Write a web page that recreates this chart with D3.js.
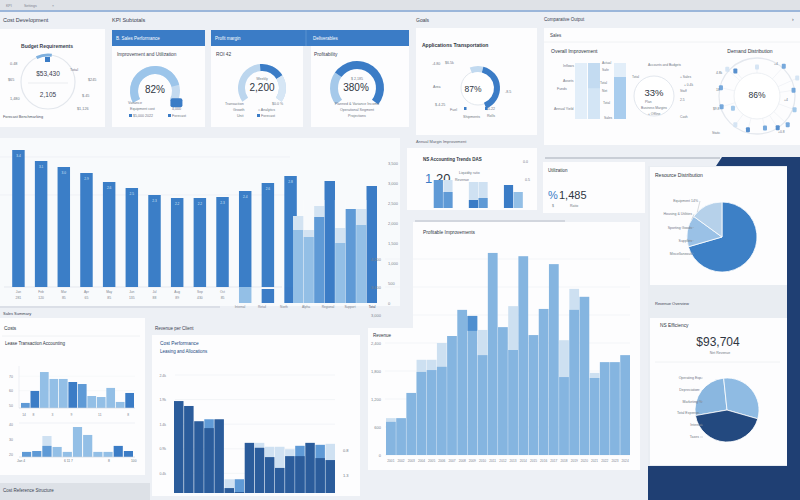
<!DOCTYPE html>
<html>
<head>
<meta charset="utf-8">
<script src="https://cdn.jsdelivr.net/npm/d3@7"></script>
<style>
  body { margin: 0; background: #edf0f5; }
  svg { display: block; font-family: "Liberation Sans", Arial, sans-serif; }
</style>
</head>
<body>
<svg id="chart" width="800" height="500"></svg>
<script>
// ---- data ----
var trendLabels = ['Jan','Feb','Mar','Apr','May','Jun','Jul','Aug','Sep','Oct','Nov','Dec','Total'];
var trendValues = [3425,3150,3000,2850,2625,2475,2300,2225,2225,2250,2400,2600,2775];
var trendSub = ['281','120','85','65','85','135','88','89','430','85','','',''];
var trendTicks = [0,500,1000,1500,2000,2500,3000,3500];

var compareSlots = ['A1','A2','B1','B2','C1','C2','D1','D2'];
var compareBase = [1825,1650,2150,3050,1500,2350,1950,2925];
var compareCap  = [2175,1825,2425,0,1875,0,2350,0];
var compareTone = ['light','light','mid','dark','light','mid','light','dark'];
var compareFoot = ['Internal','Retail','North','Alpha','Regional','Support','Total'];
var carryIndex = [10,11,12];
var carryValues = [400,350,400];
var carryTone = ['light','dark','dark'];

var revLabels = ['2001','2002','2003','2004','2005','2006','2007','2008','2009','2010','2011','2012',
                 '2013','2014','2015','2016','2017','2018','2019','2020','2021','2022','2023','2024'];
var revBase = [710,790,1330,1780,1820,1890,2550,3110,2980,2140,4330,2740,2250,4260,2570,3130,4090,1670,3110,3390,1650,1990,1990,2140];
var revCap  = [790,0,0,2040,2040,2400,0,0,0,2680,0,0,3190,0,0,0,0,2460,3560,0,1760,0,0,0];
var revAccent = [0,0,0,0,0,0,0,0,2660,0,0,0,0,0,0,0,0,0,0,0,0,0,0,0];
var revTicks = [0,600,1200,1800,2400,3000,3600,4200];

var leaseLabels = ['14','8','','3','','9','','','11','','','8'];
var leaseA = [51.5,59.8,72.9,68.1,68.1,66.0,64.6,56.3,55.6,61.9,52.2,58.4];
var leaseATone = ['mid','dark','light','light','light','dark','mid','light','light','light','light','dark'];
var leaseB = [21.4,22.0,25.4,24.7,21.4,38.0,32.7,21.4,21.4,25.4,22.0];
var leaseBCap = [0,0,32.0,0,0,0,0,0,0,0,0];
var leaseBTone = ['mid','mid','mid','light','light','light','light','light','light','dark','dark'];

var allocDark = [1.87,1.77,1.46,1.32,1.50,0.10,0.02,1.02,0.92,0.73,0.51,0.75,0.75,1.02,0.71,0.67];
var allocCap  = [0,0,0,1.50,0,0.28,0.28,0,1.02,0.94,0.94,0.89,0.96,0,0.98,1.00];
var allocCapTone = ['','','','mid','','pale','mid','','pale','pale','pale','pale','mid','','mid','pale'];
var allocTicks = [0.4,0.9,1.4,1.9,2.4];

var miniGroups = ['North','Central','South'];
var miniSeries = ['Plan','Actual'];
var miniTotal = [[28,28],[26,26],[23,16]];
var miniActual = [[28,16],[8,10],[23,16]];
var miniTone = [['mid','mid'],['dark','mid'],['dark','light']];

var improveCols = ['Plan','Target','Reserve','Actual'];
var improveTotal = [100,100,0,100];
var improveFill = [0,0,0,75];
var improveHead = [0,45,0,0];

var resourceNames = ['Equipment 14%','Housing & Utilities','Sporting Goods','Supplies','Miscellaneous'];
var resourceShares = [70.5,14.5,15];
var expenseNames = ['Operating Exp.','Depreciation','Marketing %','Total Expense','Interest','Taxes'];
var expenseShares = [94,112,154];

var demandAngles = [312,319,283,253,243,0,42,66,81,110,133,147,166,195,217];
var demandDist = [40,33,37,37,27,29,40,44,37,40,42,38,33,35,36];
var demandTone = ['pale','dark','mid','mid','light','pale','mid','pale','mid','light','mid','dark','mid','dark','pale'];

var tones = {dark:'#3b7cc6', mid:'#5f9ad6', light:'#93bfe6', pale:'#cfe1f2', navy:'#2b5c9b', deep:'#23497f'};

// ---- helpers ----
var svg = d3.select('#chart');
function box(x, y, w, h, fill) {
  return svg.append('rect').attr('x', x).attr('y', y).attr('width', w).attr('height', h)
    .attr('fill', fill || '#fdfdfe');
}
function txt(x, y, s, size, color, anchor, weight) {
  return svg.append('text').attr('x', x).attr('y', y).text(s)
    .attr('font-size', size || 4.5).attr('fill', color || '#6f7784')
    .attr('text-anchor', anchor || 'start').attr('font-weight', weight || 'normal');
}
function hline(x1, x2, y, color, w) {
  svg.append('line').attr('x1', x1).attr('x2', x2).attr('y1', y).attr('y2', y)
    .attr('stroke', color || '#e6eaf0').attr('stroke-width', w || 0.6);
}
var rad = Math.PI / 180;
function arcAt(cx, cy, r0, r1, a0, a1, fill) {
  svg.append('path').attr('transform', 'translate(' + cx + ',' + cy + ')')
    .attr('d', d3.arc()({innerRadius: r0, outerRadius: r1, startAngle: a0 * rad, endAngle: a1 * rad}))
    .attr('fill', fill);
}
function polar(cx, cy, deg, r) {
  return [cx + r * Math.sin(deg * rad), cy - r * Math.cos(deg * rad)];
}

// ---- frame ----
box(0, 0, 800, 10, '#dfe2e7');
txt(6, 7, 'KPI', 3.5, '#7c838e');
txt(24, 7, 'Settings', 3.5, '#7c838e');
txt(52, 7, '×', 3.5, '#7c838e');
hline(0, 800, 11, '#4a7cbf', 1.2);

txt(3, 22, 'Cost Development', 5.5, '#3a4150');
txt(112, 22, 'KPI Subtotals', 5.5, '#3a4150');
txt(416, 22, 'Goals', 5, '#3a4150');
txt(544, 21, 'Comparative Output', 4.5, '#3a4150');
txt(792, 21, '›', 5, '#3a4150');

// ---- panel A : budget ring ----
box(0, 29, 105, 98);
txt(47, 48, 'Budget Requirements', 5, '#3a4150', 'middle', 'bold');
svg.append('circle').attr('cx', 48).attr('cy', 82).attr('r', 27)
  .attr('fill', 'none').attr('stroke', '#e3e7ed').attr('stroke-width', 1.2);
hline(28, 68, 83, '#e6e9ee', 0.8);
arcAt(48, 82, 25.5, 28.5, -25, 8, '#7fb0de');
box(45, 57, 5, 5, '#3b7cc6');
txt(48, 76, '$53,430', 6.5, '#3a4150', 'middle');
txt(48, 97, '2,105', 6.5, '#3a4150', 'middle');
txt(10, 65, '0.48', 3.8); txt(70, 71, 'Total', 3.8); txt(8, 81, '$65', 3.8);
txt(88, 81, '$245', 3.8); txt(10, 100, '1,480', 3.8); txt(82, 97, '$.45', 3.8);
txt(77, 110, '$1,126', 3.8); txt(3, 118, 'Forecast Benchmarking', 3.8, '#4d5563');

// ---- panels B/C/D : gauges ----
box(112, 30, 93, 97); box(211, 30, 198, 97);
box(112, 30, 93, 16, '#3b7cc6'); box(211, 30, 198, 16, '#3b7cc6');
svg.append('line').attr('x1', 306).attr('x2', 306).attr('y1', 30).attr('y2', 46).attr('stroke', '#5b92d0');
box(303, 46, 8, 81, '#edf0f5');
txt(116, 40, 'B. Sales Performance', 4.5, '#ffffff');
txt(215, 40, 'Profit margin', 4.5, '#ffffff');
txt(313, 40, 'Deliverables', 4.5, '#ffffff');

txt(117, 56, 'Improvement and Utilization', 4.8, '#3a4150');
arcAt(155, 91, 17, 25, -118, 118, '#c3daf0');
arcAt(155, 91, 17, 25, -118, -118 + 236 * 0.82, '#9cc5ea');
var mB = polar(155, 91, 118, 22);
svg.append('rect').attr('x', mB[0] - 4).attr('y', mB[1] - 3).attr('width', 12).attr('height', 9)
  .attr('rx', 2).attr('fill', '#3b7cc6');
txt(155, 93, '82%', 10, '#2f3642', 'middle');
txt(128, 104, 'Variance', 3.6); txt(130, 110, 'Equipment cost', 3.6); txt(172, 110, '4,000', 3.6);
box(129, 114, 3, 3, '#3b7cc6'); txt(133, 117, '$5,000 2022', 3.6);
box(168, 114, 3, 3, '#3b7cc6'); txt(172, 117, 'Forecast', 3.6);

txt(216, 56, 'ROI 42', 4.8, '#3a4150');
arcAt(262, 88, 17, 24, -125, 125, '#bcd6ee');
arcAt(262, 88, 17, 24, -5, 58, '#3b7cc6');
arcAt(262, 88, 17, 24, 58, 125, '#d6e6f5');
txt(262, 80, 'Weekly', 3.6, '#6f7784', 'middle');
txt(262, 91, '2,200', 10, '#2f3642', 'middle');
txt(225, 105, 'Transaction', 3.6); txt(272, 105, '$0.0 %', 3.6);
txt(233, 111, 'Growth', 3.6); txt(258, 111, '≈ Analytics', 3.6);
txt(237, 117, 'Unit', 3.6); box(257, 114, 3, 3, '#3b7cc6'); txt(261, 117, 'Forecast', 3.6);

txt(314, 56, 'Profitability', 4.8, '#3a4150');
arcAt(357, 88, 19, 27, -128, -55, '#a5c9ea');
arcAt(357, 88, 19, 27, -55, 128, '#3b7cc6');
txt(357, 80, '$ 2,185', 3.6, '#6f7784', 'middle');
txt(356, 91, '380%', 10, '#2f3642', 'middle');
txt(357, 105, 'Planned & Variance Income', 3.6, '#6f7784', 'middle');
txt(357, 111, 'Operational Segment', 3.6, '#6f7784', 'middle');
txt(357, 117, 'Projections', 3.6, '#6f7784', 'middle');

// ---- panel E : goal donut ----
box(416, 28, 121, 107);
txt(422, 47, 'Applications Transportation', 5, '#2f3642', 'start', 'bold');
svg.append('circle').attr('cx', 478).attr('cy', 88).attr('r', 17)
  .attr('fill', '#fff').attr('stroke', '#e3e8ee').attr('stroke-width', 1);
arcAt(478, 88, 16, 22, -22, 14, '#c2daf0');
arcAt(478, 88, 16, 22, 14, 158, '#3b7cc6');
txt(473, 92, '87%', 8.5, '#2f3642', 'middle');
txt(432, 65, '-4.80', 3.6); txt(445, 64, '$6.5k', 3.6); txt(433, 88, 'Area', 3.6);
txt(505, 93, '-8.5', 3.6); txt(435, 106, '$-4.25', 3.6); txt(450, 111, 'Fuel', 3.6);
txt(486, 110, '$5.22', 3.6); txt(463, 118, 'Shipments', 3.6); txt(487, 117, 'Rolls', 3.6);
box(464, 107, 2.5, 3, '#3b7cc6'); box(485, 107, 2.5, 3, '#3b7cc6');
txt(416, 143, 'Annual Margin Improvement', 4, '#5d6572');

// ---- panel F : comparative output ----
box(544, 28, 256, 117);
txt(550, 37, 'Sales', 4.5, '#3a4150');
hline(544, 800, 42, '#eceff3', 0.8);
txt(551, 53, 'Overall Improvement', 5, '#2f3642');
var xI = d3.scaleBand().domain(improveCols).range([575, 627]);
var yI = d3.scaleLinear().domain([0, 100]).range([119, 63]);
improveCols.forEach(function(c, i) {
  if (!improveTotal[i]) return;
  box(xI(c), yI(improveTotal[i]), xI.bandwidth() - 1, yI(0) - yI(improveTotal[i]), i === 1 ? '#d3e5f5' : '#e2eef9');
  if (improveHead[i]) box(xI(c), yI(100), xI.bandwidth() - 1, yI(100 - improveHead[i]) - yI(100), '#c3dbf1');
  if (improveFill[i]) box(xI(c), yI(improveFill[i]), xI.bandwidth() - 1, yI(0) - yI(improveFill[i]), '#a9cdee');
});
txt(563, 67, 'Inflows', 3.5); txt(563, 82, 'Assets', 3.5); txt(557, 90, 'Funds', 3.5); txt(554, 110, 'Annual Yield', 3.5);
txt(602, 64, 'Actual', 3.3); txt(602, 71, 'Safe', 3.3); txt(600, 84, 'Total', 3.3); txt(602, 92, 'Net', 3.3);
txt(603, 104, 'Total', 3.3); txt(604, 119, 'Sales', 3.3);
svg.append('circle').attr('cx', 654).attr('cy', 96).attr('r', 20)
  .attr('fill', '#fff').attr('stroke', '#e2e7ee').attr('stroke-width', 1);
txt(654, 96, '33%', 9.5, '#2f3642', 'middle');
txt(645, 103, 'Plan', 3.3); txt(654, 109, 'Business Margins', 3.3, '#6f7784', 'middle'); txt(648, 115, '+ Offline', 3.3);
txt(648, 66, 'Accounts and Budgets', 3.3); txt(632, 78, 'Total', 3.3); txt(680, 78, '+ Sales', 3.3);
txt(684, 86, '+ 0.4k', 3.3); txt(680, 92, 'Staff', 3.3); txt(680, 101, '2.5', 3.3); txt(680, 118, 'Cash', 3.3);

txt(750, 53, 'Demand Distribution', 5, '#2f3642', 'middle');
svg.append('circle').attr('cx', 757).attr('cy', 96).attr('r', 38)
  .attr('fill', 'none').attr('stroke', '#e4e8ee').attr('stroke-width', 1.3);
svg.append('circle').attr('cx', 757).attr('cy', 96).attr('r', 23)
  .attr('fill', '#fff').attr('stroke', '#edf0f4').attr('stroke-width', 1);
demandAngles.forEach(function(a, i) {
  var p0 = polar(757, 96, a, 23), p = polar(757, 96, a, demandDist[i]);
  svg.append('line').attr('x1', p0[0]).attr('y1', p0[1]).attr('x2', p[0]).attr('y2', p[1])
    .attr('stroke', '#e6eaf0').attr('stroke-width', 0.5);
  svg.append('rect').attr('x', p[0] - 2).attr('y', p[1] - 2.5).attr('width', 4).attr('height', 5)
    .attr('rx', 1).attr('fill', tones[demandTone[i]]).attr('opacity', 0.85);
});
txt(757, 98, '86%', 8.5, '#2f3642', 'middle');
txt(716, 74, '4.8k', 3.3); txt(716, 91, '18', 3.3); txt(713, 110, '$9.8', 3.3);
txt(774, 65, '+4', 3.3); txt(784, 101, '+4', 3.3); txt(712, 134, 'Static', 3.3); txt(778, 133, '+0.8', 3.3);

// ---- big trend bars ----
box(0, 138, 400, 168, '#f8fafc');
var xT = d3.scaleBand().domain(trendLabels).range([2, 307]).paddingInner(0.45).paddingOuter(0.45);
var yT = d3.scaleLinear().domain([0, 3500]).range([287, 147]);
[2300, 3250].forEach(function(v) { hline(0, 290, yT(v), '#e9edf2', 0.6); });
hline(4, 282, 287, '#d8dde5', 0.6);
svg.append('g').selectAll('rect').data(trendValues).join('rect')
  .attr('x', function(d, i) { return xT(trendLabels[i]); })
  .attr('y', function(d) { return yT(d); })
  .attr('width', xT.bandwidth())
  .attr('height', function(d) { return yT(0) - yT(d); })
  .attr('fill', '#3b7ec7');
svg.append('g').selectAll('text').data(trendValues).join('text')
  .attr('x', function(d, i) { return xT(trendLabels[i]) + xT.bandwidth() / 2; })
  .attr('y', function(d) { return yT(d) + 7; })
  .attr('text-anchor', 'middle').attr('font-size', 3.2).attr('fill', '#d6e6f7')
  .text(function(d) { return (d / 1000).toFixed(1); });
trendLabels.forEach(function(l, i) {
  if (i < 10) {
    txt(xT(l) + xT.bandwidth() / 2, 293, l, 3.2, '#7c838e', 'middle');
    txt(xT(l) + xT.bandwidth() / 2, 299, trendSub[i], 3.4, '#7c838e', 'middle');
  }
});

var xC = d3.scaleBand().domain(compareSlots).range([293, 377]);
var yC = d3.scaleLinear().domain([0, 4000]).range([303, 143]);
carryIndex.forEach(function(idx, i) {
  var l = trendLabels[idx];
  box(xT(l), yC(carryValues[i]), xT.bandwidth(), yC(0) - yC(carryValues[i]), tones[carryTone[i]]);
});
compareSlots.forEach(function(s, i) {
  if (compareCap[i]) box(xC(s), yC(compareCap[i]), xC.bandwidth(), yC(0) - yC(compareCap[i]), '#d3e3f2');
  box(xC(s), yC(compareBase[i]), xC.bandwidth(), yC(0) - yC(compareBase[i]), tones[compareTone[i]]);
});
svg.append('g').selectAll('line').data(compareSlots.slice(1)).join('line')
  .attr('x1', function(d) { return xC(d); }).attr('x2', function(d) { return xC(d); })
  .attr('y1', 200).attr('y2', 303).attr('stroke', '#ffffff').attr('stroke-width', 0.5).attr('opacity', 0.6);
var axT = svg.append('g').attr('transform', 'translate(386,0)')
  .call(d3.axisRight(yC).tickValues(trendTicks).tickSize(0).tickPadding(2));
axT.select('.domain').remove();
axT.selectAll('text').attr('font-size', 4).attr('fill', '#7c838e').attr('font-family', null);
var xFoot = d3.scalePoint().domain(compareFoot).range([240, 372]);
compareFoot.forEach(function(f) { txt(xFoot(f), 308, f, 3.2, f === 'Total' ? '#3a4150' : '#7c838e', 'middle'); });
hline(0, 220, 307, '#d5dae2', 1.5);

// ---- panel G : margin mini bars ----
box(407, 148, 130, 62);
txt(423, 161, 'NS Accounting Trends DAS', 4.5, '#2f3642', 'start', 'bold');
txt(523, 163, '0.0', 3.5); txt(525, 181, '0.5', 3.5);
txt(425, 183, '1', 13, '#3b7cc6');
txt(436, 183, '20', 13, '#2f3642');
txt(459, 174, 'Liquidity ratio', 3.5); txt(455, 181, 'Revenue', 3.5);
var xG = d3.scaleBand().domain(miniGroups).range([425, 532]).paddingInner(0.45).paddingOuter(0.25);
var xG2 = d3.scaleBand().domain(miniSeries).range([0, xG.bandwidth()]);
var yG = d3.scaleLinear().domain([0, 30]).range([208, 178]);
miniGroups.forEach(function(g, gi) {
  miniSeries.forEach(function(s, si) {
    var x = xG(g) + xG2(s);
    box(x, yG(miniTotal[gi][si]), xG2.bandwidth() - 0.5, yG(0) - yG(miniTotal[gi][si]), '#cfe1f2');
    box(x, yG(miniActual[gi][si]), xG2.bandwidth() - 0.5, yG(0) - yG(miniActual[gi][si]), tones[miniTone[gi][si]]);
  });
});
hline(415, 565, 221, '#c9ced6', 1.5);

// ---- panel H ----
hline(545, 720, 158, '#c9ced6', 2);
box(543, 162, 102, 51);
txt(548, 172, 'Utilization', 4.5, '#2f3642');
txt(548, 199, '%', 11, '#3b7cc6');
txt(559, 199, '1,485', 11, '#2f3642');
txt(552, 207, '$', 3.5); txt(570, 207, 'Ratio', 3.5);

// ---- right navy backdrop and pies ----
svg.append('path').attr('d', 'M722,157 L800,157 L800,500 L648,500 L648,166 L716,166 Z').attr('fill', '#1f3f73');
box(648, 166, 139, 300, '#e9edf2');
box(650, 167, 137, 118);
txt(655, 177, 'Resource Distribution', 5, '#2f3642');
var pieI = d3.pie().sort(null)(resourceShares);
var arcI = d3.arc().innerRadius(0).outerRadius(35);
svg.append('g').attr('transform', 'translate(722,237)').selectAll('path').data(pieI).join('path')
  .attr('d', arcI).attr('fill', function(d, i) { return ['#3d80c6', '#9ac1e6', '#b6d1ea'][i]; })
  .attr('stroke', '#ffffff').attr('stroke-width', 0.8);
var yIL = d3.scalePoint().domain(resourceNames).range([201, 254]);
resourceNames.forEach(function(n, i) {
  var y = yIL(n);
  txt(698 - (i === 0 ? 0 : 6), y + 1, n, 3.5, '#6f7784', 'end');
  var tgt = polar(722, 237, [315, 300, 285, 265, 245][i], 35);
  svg.append('line').attr('x1', 700 - (i === 0 ? 0 : 6)).attr('y1', y).attr('x2', tgt[0]).attr('y2', tgt[1])
    .attr('stroke', '#9aa3ae').attr('stroke-width', 0.4);
});

txt(655, 305, 'Revenue Overview', 4, '#3a4150');
box(650, 318, 137, 147);
txt(660, 327, 'NS Efficiency', 4.8, '#2f3642');
txt(718, 346, '$93,704', 12, '#2f3642', 'middle');
txt(720, 354, 'Net Revenue', 3.5, '#6f7784', 'middle');
hline(655, 780, 362, '#eceff3', 0.8);
var pieJ = d3.pie().sort(null).startAngle(-100 * rad).endAngle(260 * rad)(expenseShares);
var arcJ = d3.arc().innerRadius(0).outerRadius(32);
svg.append('g').attr('transform', 'translate(727,410)').selectAll('path').data(pieJ).join('path')
  .attr('d', arcJ).attr('fill', function(d, i) { return ['#8ab7e0', '#8fbbe3', '#23497f'][i]; })
  .attr('stroke', '#ffffff').attr('stroke-width', 0.8);
var yJL = d3.scalePoint().domain(expenseNames).range([378, 437]);
expenseNames.forEach(function(n, i) {
  var y = yJL(n);
  txt(702 - (i % 2) * 3, y + 1, n, 3.5, '#6f7784', 'end');
  var tgt = polar(727, 410, [300, 285, 265, 255, 240, 225][i], 32);
  svg.append('line').attr('x1', 703 - (i % 2) * 3).attr('y1', y).attr('x2', Math.min(tgt[0], 703)).attr('y2', y)
    .attr('stroke', '#9aa3ae').attr('stroke-width', 0.4);
});

// ---- panel M : revenue bars ----
box(413, 222, 227, 110);
box(368, 328, 272, 142);
txt(423, 234, 'Profitable Improvements', 4.8, '#2f3642');
txt(373, 337, 'Revenue', 4.5, '#2f3642');
var xR = d3.scaleBand().domain(revLabels).range([386, 630]).paddingInner(0.04);
var yR = d3.scaleLinear().domain([0, 4500]).range([455, 245]);
revTicks.forEach(function(t) { hline(385, 630, yR(t), '#eef1f5', 0.6); });
var axR = svg.append('g').attr('transform', 'translate(383,0)')
  .call(d3.axisLeft(yR).tickValues(revTicks).tickSize(0).tickPadding(2));
axR.select('.domain').remove();
axR.selectAll('text').attr('font-size', 4).attr('fill', '#7c838e').attr('font-family', null);
revLabels.forEach(function(l, i) {
  if (revCap[i]) box(xR(l), yR(revCap[i]), xR.bandwidth(), yR(0) - yR(revCap[i]), '#cde0f1');
  box(xR(l), yR(revBase[i]), xR.bandwidth(), yR(0) - yR(revBase[i]), '#85b5e0');
  if (revAccent[i]) box(xR(l), yR(revBase[i]), xR.bandwidth(), yR(revAccent[i]) - yR(revBase[i]), '#4f8fd0');
  txt(xR(l) + xR.bandwidth() / 2, 462, l, 3.2, '#7c838e', 'middle');
});

// ---- panel K : lease charts ----
txt(3, 315, 'Sales Summary', 4, '#3a4150');
box(0, 318, 145, 157);
txt(4, 330, 'Costs', 4.8, '#2f3642');
hline(2, 140, 336, '#eceff3', 0.8);
txt(5, 345, 'Lease Transaction Accounting', 4.5, '#2f3642');
var xKa = d3.scaleBand().domain(d3.range(leaseA.length)).range([21, 134]).paddingInner(0.08);
var yKa = d3.scaleLinear().domain([48, 75]).range([408, 369]);
[50, 60, 70].forEach(function(t) { txt(13, yKa(t) + 1.5, t, 3.5, '#7c838e', 'end'); hline(19, 135, yKa(t), '#f0f2f6', 0.5); });
leaseA.forEach(function(v, i) {
  box(xKa(i), yKa(v), xKa.bandwidth(), yKa(48) - yKa(v), tones[leaseATone[i]]);
  if (leaseLabels[i]) txt(xKa(i) + 3, 416, leaseLabels[i], 3.3, '#7c838e', 'middle');
});
hline(19, 135, 408, '#cfd5dd', 0.6);
svg.append('line').attr('x1', 19).attr('x2', 19).attr('y1', 366).attr('y2', 408).attr('stroke', '#dde2e8').attr('stroke-width', 0.5);
var xKb = d3.scaleBand().domain(d3.range(leaseB.length)).range([22, 133]).paddingInner(0.1);
var yKb = d3.scaleLinear().domain([18, 44]).range([457, 418]);
[20, 30, 40].forEach(function(t) { txt(13, yKb(t) + 1.5, t, 3.5, '#7c838e', 'end'); });
hline(19, 135, 423, '#e3e7ed', 0.5);
leaseB.forEach(function(v, i) {
  if (leaseBCap[i]) box(xKb(i), yKb(leaseBCap[i]), xKb.bandwidth(), yKb(18) - yKb(leaseBCap[i]), '#cfe1f2');
  box(xKb(i), yKb(v), xKb.bandwidth(), yKb(18) - yKb(v), tones[leaseBTone[i]]);
});
hline(19, 135, 457, '#cfd5dd', 0.6);
txt(17, 462, 'Jan  4', 3.3); txt(64, 462, '6  11  7', 3.3); txt(108, 462, '8', 3.3); txt(131, 462, '100', 3.3);
box(0, 483, 150, 17, '#dde1e7');
txt(3, 492, 'Cost Reference Structure', 4.5, '#3a4150');

// ---- panel L : allocations ----
txt(155, 330, 'Revenue per Client', 4.5, '#3a4150');
box(152, 335, 208, 161);
txt(160, 345, 'Cost Performance', 4.8, '#23497f');
txt(160, 353, 'Leasing and Allocations', 4.5, '#23497f');
var xL = d3.scaleBand().domain(d3.range(allocDark.length)).range([174, 335]).paddingInner(0.06);
var yL = d3.scaleLinear().domain([0, 2.4]).range([493, 375]);
allocTicks.forEach(function(t) {
  hline(175, 335, yL(t), '#e8ecf1', 0.5);
  txt(166, yL(t) + 1.5, t.toFixed(1) + 'k', 3.5, '#7c838e', 'end');
});
allocDark.forEach(function(v, i) {
  if (allocCap[i]) box(xL(i), yL(allocCap[i]), xL.bandwidth(), yL(0) - yL(allocCap[i]), tones[allocCapTone[i]]);
  box(xL(i), yL(v), xL.bandwidth(), yL(0) - yL(v), tones.navy);
});
txt(343, 452, '0.8', 4, '#6f7784'); txt(343, 477, '1.3', 4, '#6f7784');
</script>
</body>
</html>
